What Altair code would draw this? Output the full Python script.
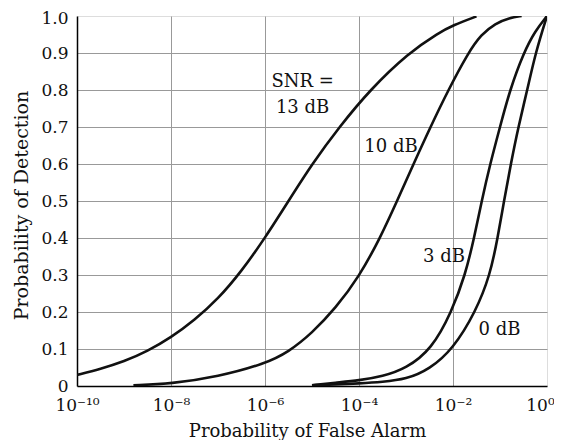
import altair as alt
import pandas as pd

# ---- data (x as log10 of Pfa, y as Pd) ----
snr13_logpfa = [-10, -9.5, -9, -8.5, -8, -7.5, -7, -6.5, -6.0, -5.5, -5.0, -4.42, -3.77, -2.95, -2.3, -2.0, -1.5]
snr13_pd     = [0.03, 0.046, 0.066, 0.094, 0.131, 0.178, 0.235, 0.31, 0.40, 0.50, 0.60, 0.70, 0.80, 0.90, 0.955, 0.975, 0.999]

snr10_logpfa = [-8.8, -8, -7, -6, -5.5, -5, -4.5, -4.0, -3.55, -3.19, -2.84, -2.48, -2.1, -1.68, -1.4, -1.1, -0.8, -0.54]
snr10_pd     = [0.002, 0.006, 0.025, 0.06, 0.092, 0.143, 0.21, 0.295, 0.40, 0.50, 0.60, 0.70, 0.80, 0.90, 0.95, 0.98, 0.995, 1.0]

snr3_logpfa = [-5.0, -4.5, -4.0, -3.5, -3.0, -2.45, -2.03, -1.74, -1.55, -1.39, -1.21, -1.0, -0.79, -0.5, -0.25, 0.0]
snr3_pd     = [0.002, 0.009, 0.015, 0.026, 0.047, 0.10, 0.20, 0.30, 0.40, 0.50, 0.60, 0.70, 0.80, 0.90, 0.96, 1.0]

snr0_logpfa = [-5.0, -4.5, -4.0, -3.5, -3.0, -2.5, -2.0, -1.52, -1.21, -1.05, -0.915, -0.77, -0.61, -0.42, -0.245, 0.0]
snr0_pd     = [0.002, 0.004, 0.007, 0.011, 0.018, 0.045, 0.10, 0.20, 0.30, 0.40, 0.50, 0.60, 0.70, 0.80, 0.90, 1.0]

curve_names = ["13 dB", "10 dB", "3 dB", "0 dB"]

# annotation texts (log10 Pfa, Pd of baseline)
ann_text   = ["SNR =", "13 dB", "10 dB", "3 dB", "0 dB"]
ann_logpfa = [-5.20, -5.20, -3.32, -2.19, -1.01]
ann_pd     = [0.808, 0.738, 0.632, 0.336, 0.138]

x_tick_exp = [-10, -8, -6, -4, -2, 0]
x_tick_labels = ["10\u207b\u00b9\u2070", "10\u207b\u2078", "10\u207b\u2076", "10\u207b\u2074", "10\u207b\u00b2", "10\u2070"]
y_ticks = [0, 0.1, 0.2, 0.3, 0.4, 0.5, 0.6, 0.7, 0.8, 0.9, 1.0]

# ---- build tables ----
rows = []
for name, xs, ys in zip(curve_names,
                        [snr13_logpfa, snr10_logpfa, snr3_logpfa, snr0_logpfa],
                        [snr13_pd, snr10_pd, snr3_pd, snr0_pd]):
    for i, (lx, y) in enumerate(zip(xs, ys)):
        rows.append({"snr": name, "order": i, "pfa": 10.0 ** lx, "pd": y})
curves = pd.DataFrame(rows)
ann = pd.DataFrame({"label": ann_text, "pfa": [10.0 ** v for v in ann_logpfa], "pd": ann_pd})

x_vals = [10.0 ** e for e in x_tick_exp]
label_expr = ""
for e, lab in zip(x_tick_exp[:-1], x_tick_labels[:-1]):
    label_expr += f"datum.value < {10.0 ** (e + 0.5)} ? '{lab}' : "
label_expr += f"'{x_tick_labels[-1]}'"

FONT = "DejaVu Serif"

x_enc = alt.X(
    "pfa:Q",
    scale=alt.Scale(type="log", domain=[1e-10, 1], nice=False),
    axis=alt.Axis(
        values=x_vals,
        labelExpr=label_expr,
        title="Probability of False Alarm",
        ticks=False, tickSize=0, labelPadding=24, labelBaseline="alphabetic",
        labelOffset={"condition": {"test": "datum.value > 0.5", "value": -7}, "value": 0},
        labelFont=FONT, labelFontSize=17, labelColor="#111",
        titleFont=FONT, titleFontSize=18, titleFontWeight="normal", titleColor="#111",
        titleX=230, titleY=50, titleBaseline="alphabetic", titleAlign="center",
        domainColor="black", domainWidth=1.5,
        grid=True, gridColor="#999999", gridWidth=1,
        gridOpacity={"condition": {"test": "datum.value < 1e-9 || datum.value > 0.5", "value": 0}, "value": 1},
        labelFlush=False, labelOverlap=False,
    ),
)
y_enc = alt.Y(
    "pd:Q",
    scale=alt.Scale(domain=[0, 1], nice=False),
    axis=alt.Axis(
        values=y_ticks,
        labelExpr="datum.value == 0 ? '0' : format(datum.value, '.1f')",
        title="Probability of Detection",
        ticks=False, tickSize=0, labelPadding=9,
        labelOffset={"condition": {"test": "datum.value > 0.95", "value": 2}, "value": 0},
        labelFont=FONT, labelFontSize=17, labelColor="#111",
        titleFont=FONT, titleFontSize=19, titleFontWeight="normal", titleColor="#111",
        titleX=-50, titleY=189, titleBaseline="alphabetic", titleAlign="center", titleAngle=-90,
        domainColor="black", domainWidth=1.5,
        grid=True, gridColor="#999999", gridWidth=1,
        gridOpacity={"condition": {"test": "datum.value < 0.05 || datum.value > 0.95", "value": 0}, "value": 1},
        labelFlush=False, labelOverlap=False,
    ),
)

lines = alt.Chart(curves).mark_line(
    color="#111111", strokeWidth=2.6, interpolate="basis", clip=True
).encode(x=x_enc, y=y_enc, detail="snr:N", order="order:Q")

texts = alt.Chart(ann).mark_text(
    font=FONT, fontSize=18, color="#111111", align="center", baseline="alphabetic"
).encode(x=x_enc, y=y_enc, text="label:N")

chart = alt.layer(lines, texts).properties(
    width=470, height=370,
    padding={"left": 69, "top": 8, "right": 7, "bottom": 54},
    autosize="none",
).configure_view(stroke="black", strokeWidth=1.5).configure(background="white")

chart.save("out.html", embed_options={"renderer": "svg", "actions": False})
